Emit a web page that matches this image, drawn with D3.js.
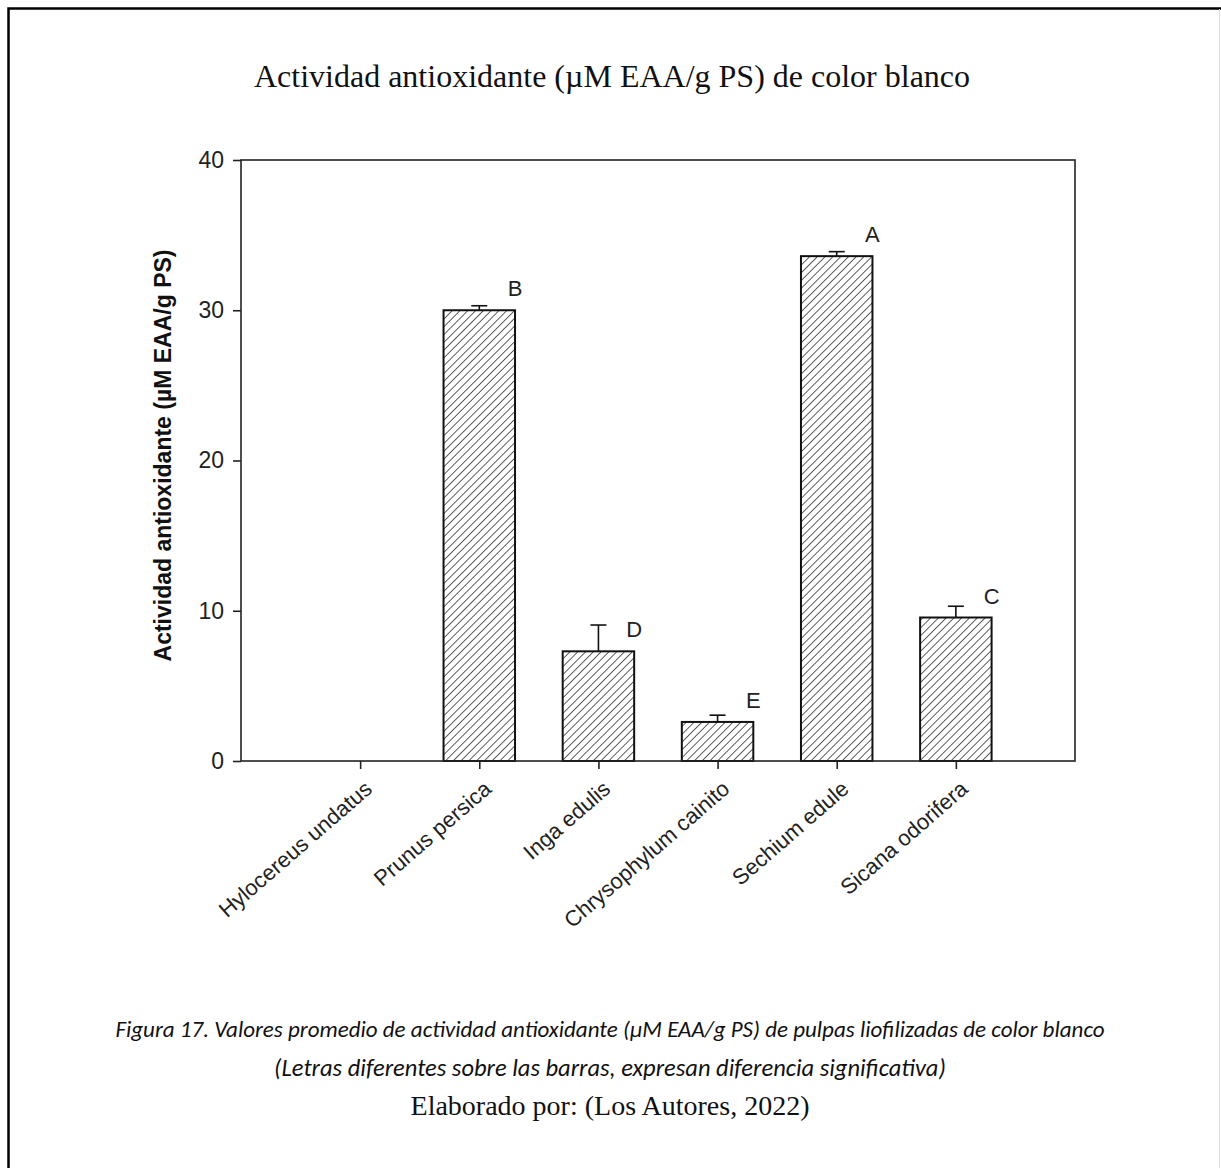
<!DOCTYPE html>
<html>
<head>
<meta charset="utf-8">
<script src="https://cdn.jsdelivr.net/npm/d3@7"></script>
<style>
  html, body { margin: 0; padding: 0; background: #fff; }
</style>
</head>
<body>
<div id="chart"></div>
<script>
const species = ["Hylocereus undatus", "Prunus persica", "Inga edulis",
                 "Chrysophylum cainito", "Sechium edule", "Sicana odorifera"];
const means = [0, 30.0, 7.3, 2.6, 33.6, 9.55];
const errors = [0, 0.3, 1.75, 0.45, 0.3, 0.75];
const letters = ["", "B", "D", "E", "A", "C"];
const yTicks = [0, 10, 20, 30, 40];

const width = 1221;
const height = 1168;
const plot = { left: 241, right: 1075, top: 160, bottom: 761 };
const axisColor = "#222";
const sans = "Arial, 'Liberation Sans', sans-serif";
const serif = "'Liberation Serif', 'Times New Roman', serif";

const svg = d3.select("#chart").append("svg")
    .attr("width", width)
    .attr("height", height);

svg.append("rect").attr("width", width).attr("height", height).attr("fill", "#fff");

// page frame
svg.append("path")
    .attr("d", `M8.5,${height} V8.5 H${width}`)
    .attr("fill", "none")
    .attr("stroke", "#000")
    .attr("stroke-width", 2.5);
svg.append("line")
    .attr("x1", width - 1.5).attr("x2", width - 1.5)
    .attr("y1", 9).attr("y2", height)
    .attr("stroke", "#ddd").attr("stroke-width", 1);

// hatch pattern
const defs = svg.append("defs");
const pat = defs.append("pattern")
    .attr("id", "hatch")
    .attr("patternUnits", "userSpaceOnUse")
    .attr("width", 5.5).attr("height", 5.5)
    .attr("patternTransform", "rotate(45)");
pat.append("rect").attr("width", 5.5).attr("height", 5.5).attr("fill", "#fff");
pat.append("line")
    .attr("x1", 0).attr("y1", 0).attr("x2", 0).attr("y2", 5.5)
    .attr("stroke", "#1a1a1a").attr("stroke-width", 1.4);

const x = d3.scalePoint()
    .domain(species)
    .range([plot.left, plot.right])
    .padding(1);

const y = d3.scaleLinear()
    .domain([0, 40])
    .range([plot.bottom, plot.top]);

const barWidth = x.step() * 0.6;

// title
svg.append("text")
    .attr("x", 612).attr("y", 87)
    .attr("text-anchor", "middle")
    .style("font-family", serif)
    .style("font-size", "32px")
    .attr("fill", "#111")
    .text("Actividad antioxidante (µM EAA/g PS) de color blanco");

// bars
const bars = species.map((s, i) => ({ name: s, mean: means[i], err: errors[i], letter: letters[i] }))
    .filter(d => d.mean > 0);

svg.append("g").selectAll("rect")
    .data(bars)
    .join("rect")
    .attr("x", d => x(d.name) - barWidth / 2)
    .attr("y", d => y(d.mean))
    .attr("width", barWidth)
    .attr("height", d => y(0) - y(d.mean))
    .attr("fill", "url(#hatch)")
    .attr("stroke", "#111")
    .attr("stroke-width", 2);

// error bars (upper only)
const eb = svg.append("g").attr("stroke", "#111").attr("stroke-width", 1.6);
eb.selectAll("line.v")
    .data(bars)
    .join("line")
    .attr("class", "v")
    .attr("x1", d => x(d.name)).attr("x2", d => x(d.name))
    .attr("y1", d => y(d.mean)).attr("y2", d => y(d.mean + d.err));
eb.selectAll("line.c")
    .data(bars)
    .join("line")
    .attr("class", "c")
    .attr("x1", d => x(d.name) - 8).attr("x2", d => x(d.name) + 8)
    .attr("y1", d => y(d.mean + d.err)).attr("y2", d => y(d.mean + d.err));

// significance letters
svg.append("g").selectAll("text")
    .data(bars)
    .join("text")
    .attr("x", d => x(d.name) + barWidth / 2)
    .attr("y", d => y(d.mean) - 14)
    .attr("text-anchor", "middle")
    .style("font-family", sans)
    .style("font-size", "22px")
    .attr("fill", "#222")
    .text(d => d.letter);

// plot frame
svg.append("rect")
    .attr("x", plot.left).attr("y", plot.top)
    .attr("width", plot.right - plot.left)
    .attr("height", plot.bottom - plot.top)
    .attr("fill", "none")
    .attr("stroke", axisColor)
    .attr("stroke-width", 1.6);

// y axis
const yAxis = svg.append("g")
    .attr("transform", `translate(${plot.left},0)`)
    .call(d3.axisLeft(y).tickValues(yTicks).tickSize(8).tickPadding(9).tickFormat(d3.format("d")));
yAxis.select(".domain").remove();
yAxis.selectAll("line").attr("stroke", axisColor).attr("stroke-width", 1.6);
yAxis.selectAll("text")
    .style("font-family", sans)
    .style("font-size", "23px")
    .attr("fill", "#222");

// x axis
const xAxis = svg.append("g")
    .attr("transform", `translate(0,${plot.bottom})`)
    .call(d3.axisBottom(x).tickSize(8).tickFormat(""));
xAxis.select(".domain").remove();
xAxis.selectAll("line").attr("stroke", axisColor).attr("stroke-width", 1.6);
xAxis.selectAll(".tick").append("text")
    .attr("text-anchor", "end")
    .attr("transform", "translate(13,30) rotate(-41)")
    .style("font-family", sans)
    .style("font-size", "22px")
    .attr("fill", "#222")
    .text(d => d);

// y axis title
svg.append("text")
    .attr("transform", `translate(171,${(plot.top + plot.bottom) / 2 - 5}) rotate(-90)`)
    .attr("text-anchor", "middle")
    .style("font-family", sans)
    .style("font-size", "23px")
    .style("font-weight", "bold")
    .attr("fill", "#111")
    .text("Actividad antioxidante (µM EAA/g PS)");

// captions
const captionFont = "Carlito, Calibri, 'Open Sans', sans-serif";
svg.append("text")
    .attr("x", 610).attr("y", 1037)
    .attr("text-anchor", "middle")
    .style("font-family", captionFont)
    .style("font-style", "italic")
    .style("font-size", "23px")
    .attr("fill", "#111")
    .text("Figura 17. Valores promedio de actividad antioxidante (µM EAA/g PS) de pulpas liofilizadas de color blanco");
svg.append("text")
    .attr("x", 610).attr("y", 1076)
    .attr("text-anchor", "middle")
    .style("font-family", captionFont)
    .style("font-style", "italic")
    .style("font-size", "24.5px")
    .attr("fill", "#111")
    .text("(Letras diferentes sobre las barras, expresan diferencia significativa)");
svg.append("text")
    .attr("x", 610).attr("y", 1115)
    .attr("text-anchor", "middle")
    .style("font-family", serif)
    .style("font-size", "28px")
    .attr("fill", "#111")
    .text("Elaborado por: (Los Autores, 2022)");
</script>
</body>
</html>
